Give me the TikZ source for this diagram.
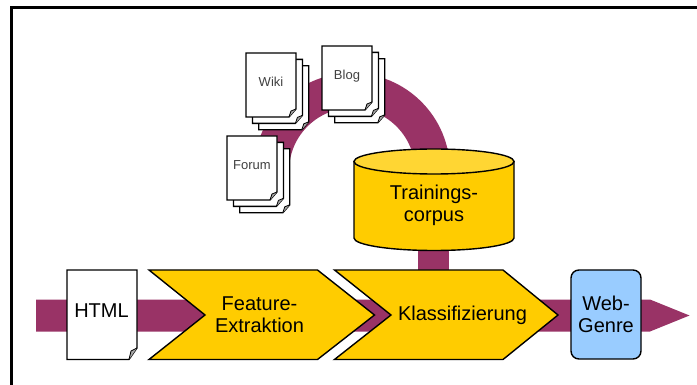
\documentclass[tikz,border=0pt]{standalone}
\usepackage{fontspec}
\setmainfont{Liberation Sans}
\definecolor{band}{HTML}{993366}
\definecolor{gold}{HTML}{FFCC00}
\definecolor{goldtop}{HTML}{FFD633}
\definecolor{sky}{HTML}{99CCFF}
\tikzset{
  outline/.style={draw=black,line width=1.4pt,line join=miter},
  bigtext/.style={font=\fontsize{20}{22}\selectfont,align=center,inner sep=0pt},
  smalltext/.style={font=\fontsize{13}{15}\selectfont,text=black!75,inner sep=0pt},
  chev/.style={outline,fill=gold},
  sheet/.style={outline,fill=white,line width=1.3pt},
  pic sheet/.pic={
    \draw[sheet] (0,0) -- (50,0) -- (50,56) -- (43,64) -- (0,64) -- cycle;
    \fill[black!35] (43,64) -- (45,58) -- (50,56) -- cycle;
    \draw[line width=.8pt] (43,64) -- (45,58) -- (50,56);
  },
  pic stack/.pic={
    \pic at (12.8,12.8) {pic sheet};
    \pic at (6.4,6.4) {pic sheet};
    \pic at (0,0) {pic sheet};
  }
}
\begin{document}
\begin{tikzpicture}[x=1pt,y=-1pt]
\useasboundingbox (0,0) rectangle (697,385);
\fill[white] (0,0) rectangle (697,385);
% frame
\draw[black,line width=3pt] (11.5,385) -- (11.5,7.5) -- (697,7.5);
% bands
\fill[band] (36,299.5) -- (650,299.5) -- (689.5,315.5) -- (650,331.5) -- (36,331.5) -- cycle;
\fill[band] (418,245) rectangle (449,275);
\draw[band,line width=35pt] (352,171) ++(0:80.5) arc[start angle=0,end angle=-175,radius=80.5];
% html
\draw[sheet] (67,270) -- (137,270) -- (137,348) -- (129,359.5) -- (67,359.5) -- cycle;
\fill[black!35] (129,359.5) -- (131,351) -- (137,348) -- cycle;
\draw[line width=.8pt] (129,359.5) -- (131,351) -- (137,348);
\node[bigtext] (html) at (101.5,311) {HTML};
% chevrons
\draw[chev] (149,270) -- (317.5,270) -- (374.5,315) -- (317.5,359.5) -- (149,359.5) -- (205,315) -- cycle;
\node[bigtext] (feat) at (259.5,315) {Feature-\\Extraktion};
\draw[chev] (334.5,270) -- (503,270) -- (558,315) -- (503,359.5) -- (334.5,359.5) -- (391,315) -- cycle;
\node[bigtext] (klass) at (462.5,315) {Klassifizierung};
% result
\node[outline,fill=sky,rounded corners=8pt,minimum width=70pt,minimum height=89pt,inner sep=0pt,align=center,
  font=\fontsize{20}{22}\selectfont] (genre) at (606,314.5) {Web-\\Genre};
% cylinder
\draw[outline,fill=gold] (354,161.5) -- (354,238) arc[start angle=180,end angle=360,x radius=80,y radius=-12.5] -- (514,161.5) -- cycle;
\draw[outline,fill=goldtop] (434,161.5) ellipse[x radius=80,y radius=12.5];
\node[bigtext] (corpus) at (434,205) {Trainings-\\corpus};
% document stacks
\pic at (246,53) {pic stack};
\node[smalltext] (wiki) at (271,82) {Wiki};
\pic at (322,46) {pic stack};
\node[smalltext] (blog) at (347,76) {Blog};
\pic at (227,136) {pic stack};
\node[smalltext] (forum) at (252,165) {Forum};
\end{tikzpicture}
\end{document}
